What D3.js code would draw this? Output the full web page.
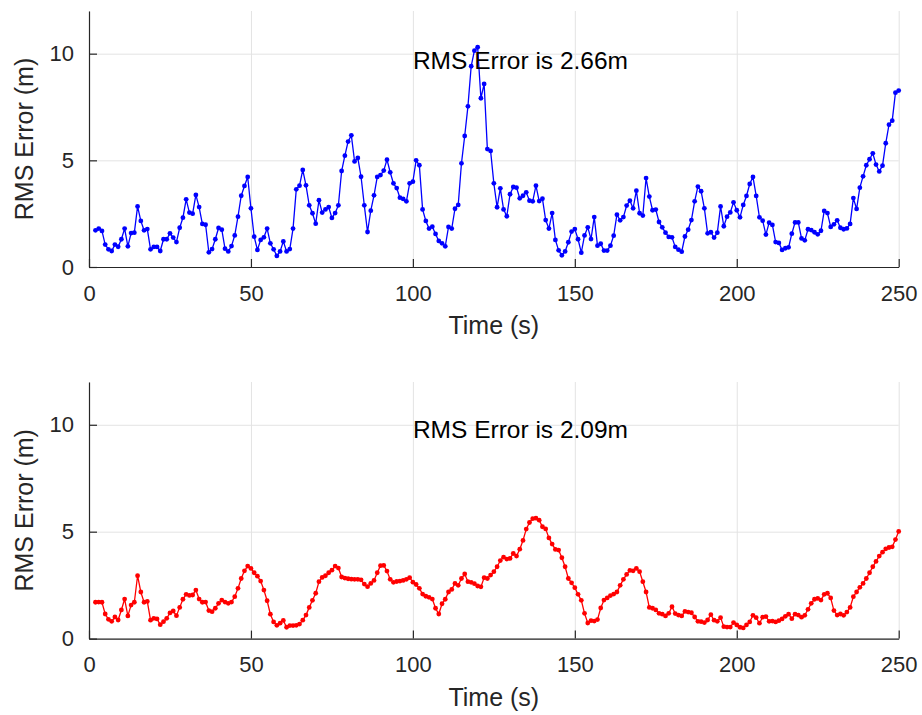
<!DOCTYPE html>
<html>
<head>
<meta charset="utf-8">
<script src="https://cdn.jsdelivr.net/npm/d3@7"></script>
<style>
  body { margin: 0; background: #fff; }
  svg text { font-family: "Liberation Sans", Arial, Helvetica, sans-serif; }
</style>
</head>
<body>
<div id="chart"></div>
<script>
// time stamps start at 2 s, one sample per second up to 250 s
var startTime = 2;

// RMS error (m), upper panel (blue)
var rmsBlue = [
  1.72,1.80,1.69,1.05,0.83,0.75,1.05,0.95,1.30,1.80,
  0.97,1.59,1.61,2.84,2.16,1.72,1.78,0.83,0.94,0.94,
  0.75,1.30,1.30,1.58,1.38,1.17,1.84,2.31,3.17,2.55,
  2.50,3.38,2.81,2.02,1.98,0.69,0.84,1.30,1.83,1.75,
  0.86,0.73,0.98,1.48,2.36,3.34,3.80,4.22,2.75,1.42,
  0.80,1.27,1.39,1.80,1.11,0.83,0.52,0.73,1.20,0.73,
  0.84,1.80,3.64,3.81,4.55,3.83,2.89,2.52,2.03,3.13,
  2.55,2.70,2.81,2.30,2.53,2.89,4.50,5.22,5.88,6.17,
  4.95,5.11,4.23,2.89,1.64,2.64,3.36,4.22,4.31,4.52,
  5.03,4.44,3.92,3.70,3.25,3.19,3.08,3.92,4.00,5.00,
  4.77,2.70,2.16,1.80,1.89,1.55,1.22,1.11,0.97,1.88,
  1.80,2.73,2.91,4.86,6.14,7.53,9.41,10.14,10.30,7.91,
  8.58,5.53,5.44,3.92,2.80,3.69,2.70,2.38,3.41,3.75,
  3.72,3.22,3.34,3.50,3.11,3.08,3.81,3.09,3.20,2.20,
  1.80,2.53,1.27,0.78,0.55,0.73,1.16,1.66,1.78,1.30,
  0.67,1.48,1.86,1.31,2.34,1.00,1.09,0.77,0.77,1.00,
  1.47,2.45,2.19,2.34,2.88,3.11,2.75,3.58,2.52,2.41,
  4.17,3.30,2.66,2.69,2.11,1.86,1.61,1.41,1.39,0.94,
  0.81,0.72,1.43,1.75,2.20,3.08,3.77,3.55,2.75,1.58,
  1.63,1.38,1.61,2.84,1.91,2.36,2.56,3.03,2.66,2.33,
  2.91,3.33,3.89,4.22,3.33,2.33,2.17,1.52,2.08,1.97,
  1.17,1.13,0.80,0.88,0.92,1.56,2.09,2.09,1.34,1.25,
  1.77,1.73,1.63,1.53,1.70,2.63,2.53,1.88,2.00,2.19,
  1.84,1.77,1.81,2.02,3.23,2.72,3.72,4.25,4.77,5.05,
  5.33,4.80,4.48,4.75,5.80,6.67,6.86,8.17,8.27
];

// RMS error (m), lower panel (red)
var rmsRed = [
  1.70,1.71,1.70,1.15,0.90,0.81,1.01,0.87,1.34,1.85,
  1.06,1.57,1.70,2.94,2.18,1.70,1.74,0.86,0.95,0.92,
  0.65,0.79,0.95,1.20,1.29,1.07,1.46,1.84,2.07,2.02,
  2.04,2.27,1.85,1.70,1.71,1.31,1.26,1.42,1.65,1.80,
  1.71,1.65,1.71,1.96,2.35,2.81,3.17,3.39,3.28,3.08,
  2.92,2.69,2.27,1.77,1.14,0.78,0.62,0.72,0.85,0.53,
  0.61,0.61,0.62,0.68,0.86,1.10,1.46,1.79,2.12,2.66,
  2.86,2.94,3.08,3.20,3.39,3.30,2.88,2.83,2.80,2.78,
  2.77,2.77,2.75,2.55,2.43,2.58,2.72,3.08,3.41,3.42,
  3.16,2.77,2.63,2.67,2.69,2.72,2.77,2.85,2.64,2.53,
  2.35,2.08,1.98,1.93,1.85,1.42,1.15,1.63,1.84,2.18,
  2.30,2.58,2.49,2.81,3.02,2.66,2.63,2.57,2.46,2.42,
  2.85,2.81,2.97,3.13,3.36,3.65,3.81,3.72,3.75,3.98,
  3.86,4.18,4.59,5.12,5.43,5.61,5.63,5.54,5.23,5.13,
  4.71,4.42,4.17,4.14,3.78,3.36,2.81,2.61,2.38,2.07,
  1.79,1.18,0.73,0.84,0.82,0.89,1.43,1.80,1.90,2.01,
  2.08,2.18,2.49,2.77,3.00,3.19,3.17,3.28,3.13,2.66,
  2.18,1.46,1.42,1.34,1.18,1.14,1.06,1.18,1.49,1.17,
  1.10,1.06,1.27,1.24,1.21,1.01,0.81,0.79,0.75,0.87,
  1.12,0.86,0.81,0.98,0.56,0.54,0.54,0.75,0.64,0.53,
  0.50,0.64,0.78,1.09,0.98,0.72,1.00,1.03,0.81,0.82,
  0.78,0.84,0.92,1.04,1.14,0.93,1.14,1.10,1.00,1.09,
  1.37,1.65,1.84,1.88,1.80,2.07,2.12,1.90,1.31,1.10,
  1.15,1.09,1.24,1.46,1.96,2.18,2.40,2.58,2.81,3.08,
  3.36,3.61,3.86,4.04,4.20,4.26,4.29,4.63,5.01
];

var xTicks = [0, 50, 100, 150, 200, 250];
var yTicks = [0, 5, 10];
var xDomain = [0, 250];
var yDomain = [0, 12];
var xLabel = "Time (s)";
var yLabel = "RMS Error (m)";
var rmsTexts = ["RMS Error is 2.66m", "RMS Error is 2.09m"];
var textAnchor = [[100, 9.7], [100, 9.78]];

var svgWidth = 922, svgHeight = 715;
var axisColor = "#262626";

var svg = d3.select("#chart").append("svg")
    .attr("width", svgWidth)
    .attr("height", svgHeight);

var panels = [
    {values: rmsBlue, color: "#0000ff", top: 11, bottom: 267, text: rmsTexts[0], anchor: textAnchor[0]},
    {values: rmsRed, color: "#ff0000", top: 382, bottom: 638.6, text: rmsTexts[1], anchor: textAnchor[1]}
];

var left = 89, right = 898.7;

panels.forEach(function(p) {
    var data = p.values.map(function(v, i) { return {t: startTime + i, v: v}; });

    var xScale = d3.scaleLinear().domain(xDomain).range([left, right]);
    var yScale = d3.scaleLinear().domain(yDomain).range([p.bottom, p.top]);
    var innerH = p.bottom - p.top;
    var innerW = right - left;

    // grid
    var gx = svg.append("g")
        .attr("transform", "translate(0," + p.bottom + ")")
        .call(d3.axisBottom(xScale).tickValues(xTicks).tickSize(-innerH).tickFormat(""));
    gx.select(".domain").remove();
    gx.selectAll("line").attr("stroke", "#e3e3e3").attr("stroke-width", 1);

    var gy = svg.append("g")
        .attr("transform", "translate(" + left + ",0)")
        .call(d3.axisLeft(yScale).tickValues(yTicks).tickSize(-innerW).tickFormat(""));
    gy.select(".domain").remove();
    gy.selectAll("line").attr("stroke", "#e3e3e3").attr("stroke-width", 1);

    // axes, ticks pointing inward
    var xAxis = svg.append("g")
        .attr("transform", "translate(0," + p.bottom + ")")
        .call(d3.axisBottom(xScale).tickValues(xTicks).tickSizeInner(-8).tickSizeOuter(0).tickPadding(18));
    var yAxis = svg.append("g")
        .attr("transform", "translate(" + left + ",0)")
        .call(d3.axisLeft(yScale).tickValues(yTicks).tickSizeInner(-8).tickSizeOuter(0).tickPadding(15));

    [xAxis, yAxis].forEach(function(a) {
        a.select(".domain").attr("stroke", axisColor).attr("stroke-width", 1.2);
        a.selectAll(".tick line").attr("stroke", axisColor).attr("stroke-width", 1.2);
        a.selectAll(".tick text")
            .attr("fill", axisColor)
            .style("font-size", "22px");
    });

    // line + dot markers
    var line = d3.line()
        .x(function(d) { return xScale(d.t); })
        .y(function(d) { return yScale(d.v); });

    svg.append("path")
        .datum(data)
        .attr("fill", "none")
        .attr("stroke", p.color)
        .attr("stroke-width", 1.3)
        .attr("d", line);

    svg.append("g").selectAll("circle")
        .data(data)
        .enter().append("circle")
        .attr("cx", function(d) { return xScale(d.t); })
        .attr("cy", function(d) { return yScale(d.v); })
        .attr("r", 2.4)
        .attr("fill", p.color);

    // annotation
    svg.append("text")
        .attr("x", xScale(p.anchor[0]))
        .attr("y", yScale(p.anchor[1]))
        .attr("dy", "0.35em")
        .attr("fill", "#000")
        .style("font-size", "24.5px")
        .text(p.text);

    // axis labels
    svg.append("text")
        .attr("x", (left + right) / 2)
        .attr("y", p.bottom + 67)
        .attr("text-anchor", "middle")
        .attr("fill", axisColor)
        .style("font-size", "25px")
        .text(xLabel);

    svg.append("text")
        .attr("transform", "translate(33," + ((p.top + p.bottom) / 2) + ") rotate(-90)")
        .attr("text-anchor", "middle")
        .attr("fill", axisColor)
        .style("font-size", "25px")
        .text(yLabel);
});
</script>
</body>
</html>
